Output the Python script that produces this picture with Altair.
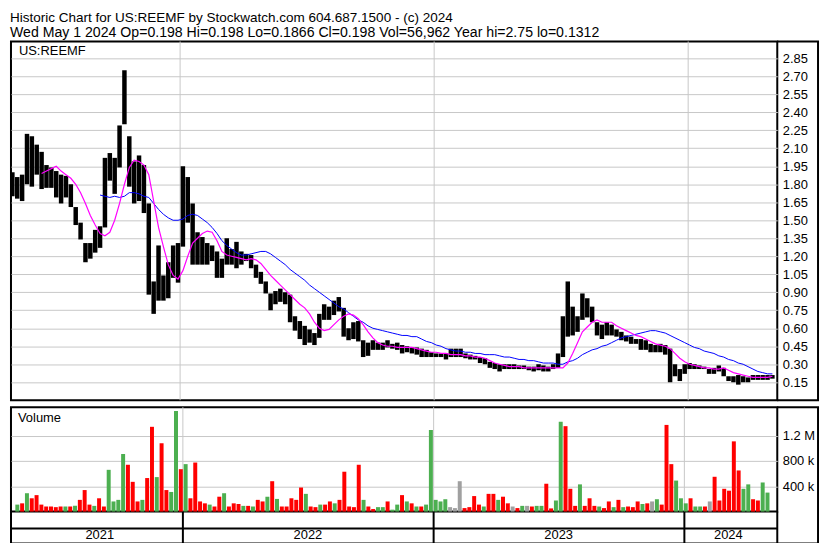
import altair as alt
import pandas as pd

FONT = "Liberation Sans"
TITLE1 = "Historic Chart for US:REEMF by Stockwatch.com 604.687.1500 - (c) 2024"
TITLE2 = "Wed May  1 2024  Op=0.198  Hi=0.198  Lo=0.1866  Cl=0.198  Vol=56,962  Year hi=2.75  lo=0.1312"
PANEL_LABEL = "US:REEMF"
VOLUME_LABEL = "Volume"

# weekly samples (mid-week)
WEEK_START = "2021-05-05"
high = [1.90, 1.86, 1.88, 2.22, 2.20, 2.13, 2.07, 1.96, 1.94, 1.91,
        1.88, 1.87, 1.80, 1.61, 1.48, 1.31, 1.31, 1.42, 1.45, 2.02,
        2.06, 2.02, 2.29, 2.75, 2.20, 1.99, 2.04, 1.96, 1.64, 0.99,
        1.29, 1.04, 1.15, 1.29, 1.31, 1.95, 1.86, 1.64, 1.40, 1.36,
        1.31, 1.29, 1.24, 1.18, 1.35, 1.26, 1.32, 1.24, 1.22, 1.21,
        1.13, 1.07, 0.99, 0.89, 0.91, 0.93, 0.90, 0.88, 0.70, 0.66,
        0.62, 0.59, 0.56, 0.72, 0.80, 0.78, 0.83, 0.86, 0.77, 0.60,
        0.65, 0.66, 0.50, 0.48, 0.50, 0.48, 0.48, 0.50, 0.47, 0.48,
        0.46, 0.45, 0.44, 0.44, 0.43, 0.42, 0.40, 0.39, 0.39, 0.39,
        0.43, 0.43, 0.43, 0.39, 0.38, 0.37, 0.36, 0.35, 0.32, 0.31,
        0.30, 0.30, 0.30, 0.30, 0.29, 0.29, 0.28, 0.28, 0.30, 0.29,
        0.28, 0.30, 0.39, 0.70, 0.99, 0.78, 0.70, 0.89, 0.85, 0.78,
        0.65, 0.63, 0.65, 0.63, 0.59, 0.57, 0.54, 0.53, 0.51, 0.51,
        0.50, 0.47, 0.46, 0.47, 0.46, 0.43, 0.30, 0.26, 0.30, 0.31,
        0.30, 0.29, 0.28, 0.26, 0.27, 0.29, 0.27, 0.20, 0.20, 0.21,
        0.20, 0.19, 0.21, 0.21, 0.21, 0.21, 0.21]
low = [1.70, 1.68, 1.66, 1.80, 1.78, 1.88, 1.76, 1.77, 1.77, 1.69,
       1.64, 1.69, 1.61, 1.46, 1.34, 1.15, 1.18, 1.23, 1.27, 1.44,
       1.83, 1.72, 1.94, 2.30, 1.78, 1.64, 1.66, 1.56, 0.88, 0.72,
       0.83, 0.83, 0.85, 1.02, 0.98, 1.28, 1.48, 1.13, 1.13, 1.13,
       1.13, 1.16, 1.02, 1.02, 1.13, 1.13, 1.10, 1.13, 1.16, 1.10,
       1.02, 0.97, 0.89, 0.75, 0.80, 0.82, 0.80, 0.65, 0.58, 0.51,
       0.46, 0.48, 0.46, 0.52, 0.67, 0.67, 0.71, 0.74, 0.53, 0.50,
       0.51, 0.49, 0.36, 0.37, 0.42, 0.42, 0.42, 0.44, 0.43, 0.42,
       0.39, 0.40, 0.39, 0.38, 0.36, 0.36, 0.36, 0.36, 0.36, 0.34,
       0.36, 0.36, 0.36, 0.35, 0.34, 0.34, 0.31, 0.30, 0.27, 0.26,
       0.24, 0.26, 0.26, 0.26, 0.26, 0.26, 0.25, 0.24, 0.25, 0.24,
       0.24, 0.26, 0.27, 0.36, 0.53, 0.54, 0.57, 0.67, 0.69, 0.65,
       0.54, 0.51, 0.54, 0.54, 0.53, 0.50, 0.49, 0.47, 0.47, 0.42,
       0.42, 0.40, 0.40, 0.40, 0.38, 0.15, 0.20, 0.16, 0.22, 0.26,
       0.26, 0.26, 0.26, 0.22, 0.22, 0.24, 0.20, 0.16, 0.15, 0.13,
       0.15, 0.15, 0.17, 0.17, 0.17, 0.17, 0.18]

MA_FAST_START = "2021-06-16"
ma_fast = [1.89, 1.91, 1.93, 1.95, 1.91, 1.88, 1.85, 1.80, 1.73, 1.64,
           1.54, 1.46, 1.39, 1.37, 1.40, 1.50, 1.64, 1.80, 1.94, 2.00,
           1.99, 1.96, 1.88, 1.66, 1.44, 1.28, 1.13, 1.04, 1.01, 1.08,
           1.20, 1.31, 1.35, 1.39, 1.41, 1.40, 1.33, 1.24, 1.21, 1.20,
           1.19, 1.18, 1.17, 1.18, 1.17, 1.14, 1.09, 1.04, 1.00, 0.96,
           0.92, 0.88, 0.84, 0.80, 0.77, 0.72, 0.65, 0.60, 0.58, 0.59,
           0.63, 0.67, 0.70, 0.72, 0.71, 0.68, 0.63, 0.57, 0.52, 0.48,
           0.46, 0.45, 0.45, 0.44, 0.44, 0.44, 0.44, 0.43, 0.42, 0.41,
           0.40, 0.40, 0.39, 0.39, 0.38, 0.38, 0.38, 0.37, 0.37, 0.36,
           0.36, 0.35, 0.33, 0.31, 0.30, 0.29, 0.28, 0.28, 0.28, 0.27,
           0.27, 0.27, 0.27, 0.27, 0.27, 0.27, 0.27, 0.27, 0.31, 0.39,
           0.48, 0.57, 0.61, 0.65, 0.67, 0.65, 0.65, 0.65, 0.62, 0.60,
           0.58, 0.56, 0.54, 0.53, 0.51, 0.49, 0.47, 0.46, 0.45, 0.43,
           0.39, 0.35, 0.32, 0.30, 0.29, 0.28, 0.27, 0.27, 0.26, 0.26,
           0.27, 0.25, 0.23, 0.22, 0.21, 0.20, 0.19, 0.19, 0.19, 0.19,
           0.20]

MA_SLOW_START = "2021-09-08"
ma_slow = [1.71, 1.70, 1.69, 1.70, 1.69, 1.70, 1.73, 1.73, 1.72, 1.70,
           1.69, 1.64, 1.59, 1.55, 1.52, 1.50, 1.50, 1.51, 1.54, 1.55,
           1.54, 1.51, 1.48, 1.44, 1.39, 1.33, 1.29, 1.26, 1.23, 1.21,
           1.21, 1.22, 1.23, 1.24, 1.24, 1.22, 1.19, 1.16, 1.13, 1.09,
           1.06, 1.03, 1.00, 0.96, 0.93, 0.90, 0.87, 0.84, 0.81, 0.78,
           0.76, 0.73, 0.70, 0.67, 0.65, 0.62, 0.60, 0.59, 0.58, 0.57,
           0.56, 0.55, 0.54, 0.54, 0.53, 0.53, 0.51, 0.49, 0.48, 0.46,
           0.45, 0.43, 0.42, 0.41, 0.41, 0.40, 0.40, 0.39, 0.39, 0.38,
           0.38, 0.38, 0.37, 0.36, 0.36, 0.35, 0.34, 0.34, 0.33, 0.33,
           0.32, 0.31, 0.31, 0.31, 0.30, 0.30, 0.32, 0.33, 0.35, 0.38,
           0.40, 0.42, 0.43, 0.45, 0.46, 0.48, 0.50, 0.52, 0.53, 0.54,
           0.55, 0.56, 0.57, 0.58, 0.58, 0.57, 0.56, 0.54, 0.52, 0.50,
           0.48, 0.46, 0.44, 0.43, 0.41, 0.40, 0.39, 0.37, 0.36, 0.34,
           0.33, 0.31, 0.30, 0.28, 0.26, 0.24, 0.23, 0.22, 0.22]

# volume in thousands of shares, weekly peak bar
volume_k = [110, 130, 290, 210, 260, 110, 80, 80, 70, 80,
            80, 80, 90, 185, 340, 110, 90, 210, 80, 660,
            160, 185, 910, 740, 470, 160, 185, 530, 1340, 545,
            1080, 340, 310, 1590, 670, 750, 210, 775, 160, 130,
            110, 80, 235, 290, 80, 130, 120, 90, 90, 80,
            185, 160, 235, 480, 200, 80, 80, 210, 185, 380,
            280, 80, 70, 110, 110, 160, 130, 185, 630, 80,
            70, 740, 185, 80, 40, 70, 70, 160, 30, 110,
            260, 160, 130, 80, 80, 110, 1290, 185, 160, 195,
            70, 55, 480, 55, 70, 245, 110, 80, 280, 280,
            185, 235, 130, 80, 55, 90, 90, 80, 90, 90,
            440, 50, 175, 1420, 1350, 360, 90, 430, 90, 210,
            90, 80, 55, 160, 70, 185, 70, 80, 70, 160,
            120, 130, 160, 195, 110, 1370, 750, 490, 210, 130,
            210, 80, 80, 80, 160, 550, 175, 360, 330, 1110,
            650, 360, 430, 195, 175, 460, 300]
# r = down day, g = up day, n = unchanged
volume_dir = list("grgrrrrrrr" "grgrrrgrrg" "gggrrrgrrg" "rrggrgrrrr"
                  "grrgrrrgrg" "rrgrgrrrrr" "grrgrrgrrr" "rrgrrggrgg"
                  "rgrgrggggg" "nnnrrrrgrr" "grrnrgnrgg" "rrggrrrgrr"
                  "rgrrgrgrrr" "grngrrrggg" "rggrnrrrrr" "rggrrgg")

price_ticks = [0.15, 0.30, 0.45, 0.60, 0.75, 0.90, 1.05, 1.20, 1.35, 1.50,
               1.65, 1.80, 1.95, 2.10, 2.25, 2.40, 2.55, 2.70, 2.85]
volume_ticks = [400000, 800000, 1200000]
year_bounds = ["2022-01-01", "2023-01-01", "2024-01-01"]
year_labels = ["2021", "2022", "2023", "2024"]
year_label_dates = ["2021-09-02", "2022-07-02", "2023-07-02", "2024-03-05"]

# ---------------------------------------------------------------- tables
dates = pd.date_range(WEEK_START, periods=len(high), freq="7D")
price_df = pd.DataFrame({"date": dates, "high": high, "low": low})
fast_df = pd.DataFrame({"date": pd.date_range(MA_FAST_START, periods=len(ma_fast), freq="7D"),
                        "ma": ma_fast})
slow_df = pd.DataFrame({"date": pd.date_range(MA_SLOW_START, periods=len(ma_slow), freq="7D"),
                        "ma": ma_slow})
vol_df = pd.DataFrame({"date": dates, "volume": [v * 1000 for v in volume_k], "dir": volume_dir})
bounds_df = pd.DataFrame({"date": pd.to_datetime(year_bounds)})
years_df = pd.DataFrame({"date": pd.to_datetime(year_label_dates), "year": year_labels})
one = pd.DataFrame({"k": [0]})

W = 771
H1 = 361
H2 = 105
SH = 32
COL = 42
GRID = "#c8c8c8"

xscale = alt.Scale(domain=[alt.DateTime(year=2021, month=5, date=3),
                           alt.DateTime(year=2024, month=5, date=8)])
X = alt.X("date:T", scale=xscale, axis=None, title=None)
pscale = alt.Scale(domain=[0, 2.99], nice=False, zero=False)
vscale = alt.Scale(domain=[0, 1650000], nice=False)
paxis = alt.Axis(orient="right", values=price_ticks, format=".2f", grid=True,
                 gridColor=GRID, gridWidth=1, ticks=False, domain=False,
                 labelFont=FONT, labelFontSize=13, labelColor="black", labelPadding=5)


def rule(**enc):
    return alt.Chart(one).mark_rule(color="black", strokeWidth=2).encode(**enc)


def text_line(txt, ypos, size):
    return alt.Chart(one).mark_text(text=txt, align="left", baseline="alphabetic",
                                    font=FONT, fontSize=size, color="black").encode(
        x=alt.value(-1), y=alt.value(ypos))


# ---------------------------------------------------------------- price panel
p_vgrid = alt.Chart(bounds_df).mark_rule(color=GRID, strokeWidth=1).encode(x=X)
p_bars = alt.Chart(price_df).mark_rule(color="black", strokeWidth=4.5).encode(
    x=X,
    y=alt.Y("low:Q", scale=pscale, title=None, axis=paxis),
    y2="high:Q",
)
p_slow = alt.Chart(slow_df).mark_line(color="#0000ff", strokeWidth=1).encode(
    x=X, y=alt.Y("ma:Q", scale=pscale, title=None, axis=paxis))
p_fast = alt.Chart(fast_df).mark_line(color="#ff00ff", strokeWidth=1.2).encode(
    x=X, y=alt.Y("ma:Q", scale=pscale, title=None, axis=paxis))
p_label = alt.Chart(one).mark_text(text=PANEL_LABEL, align="left", baseline="middle",
                                   font=FONT, fontSize=13, color="black").encode(
    x=alt.value(8), y=alt.value(10))
p_head = alt.layer(text_line(TITLE1, -20, 13.6), text_line(TITLE2, -4.5, 14.2))
p_col = alt.layer(
    rule(x=alt.value(W + COL - 1), y=alt.value(0), y2=alt.value(H1)),
    rule(x=alt.value(W), x2=alt.value(W + COL), y=alt.value(0)),
    rule(x=alt.value(W), x2=alt.value(W + COL), y=alt.value(H1)),
)
price = alt.layer(p_vgrid, p_bars, p_slow, p_fast, p_label, p_head, p_col).properties(
    width=W, height=H1)

# ---------------------------------------------------------------- volume panel
v_vgrid = alt.Chart(bounds_df).mark_rule(color=GRID, strokeWidth=1).encode(x=X)
v_bars = alt.Chart(vol_df).mark_bar(width=4).encode(
    x=X,
    y=alt.Y("volume:Q", scale=vscale, title=None,
            axis=alt.Axis(orient="right", values=volume_ticks, grid=True, gridColor=GRID,
                          gridWidth=1, ticks=False, domain=False, labelFont=FONT,
                          labelFontSize=13, labelColor="black", labelPadding=5,
                          labelExpr="datum.value >= 1000000 ? format(datum.value / 1000000, '.1f') + ' M' : format(datum.value / 1000, 'd') + ' k'")),
    color=alt.Color("dir:N", legend=None,
                    scale=alt.Scale(domain=["r", "g", "n"],
                                    range=["#ff0000", "#4caf50", "#a0a0a0"])),
)
v_label = alt.Chart(one).mark_text(text=VOLUME_LABEL, align="left", baseline="middle",
                                   font=FONT, fontSize=13, color="black").encode(
    x=alt.value(7), y=alt.value(11))
strip_seps = alt.Chart(bounds_df).mark_rule(color="black", strokeWidth=2).encode(
    x=X, y=alt.value(H2), y2=alt.value(H2 + SH))
strip_text = alt.Chart(years_df).mark_text(font=FONT, fontSize=13, color="black",
                                           baseline="middle").encode(
    x=X, y=alt.value(H2 + SH - 8), text="year:N")
v_deco = alt.layer(
    rule(x=alt.value(0), x2=alt.value(W), y=alt.value(H2 + 17)),
    rule(x=alt.value(0), x2=alt.value(W + COL), y=alt.value(H2 + SH)),
    rule(x=alt.value(0), y=alt.value(H2), y2=alt.value(H2 + SH)),
    rule(x=alt.value(W), y=alt.value(H2), y2=alt.value(H2 + SH)),
    rule(x=alt.value(W + COL - 1), y=alt.value(0), y2=alt.value(H2 + SH)),
    rule(x=alt.value(W), x2=alt.value(W + COL), y=alt.value(0)),
)
volume = alt.layer(v_vgrid, v_bars, v_label, strip_seps, strip_text, v_deco).properties(
    width=W, height=H2)

chart = alt.vconcat(price, volume, spacing=3).properties(
    padding={"left": 1, "top": 0, "right": 1, "bottom": 1},
    background="white",
).configure_view(stroke="black", strokeWidth=2)

chart.save("out.html", embed_options={"renderer": "svg", "actions": False})
